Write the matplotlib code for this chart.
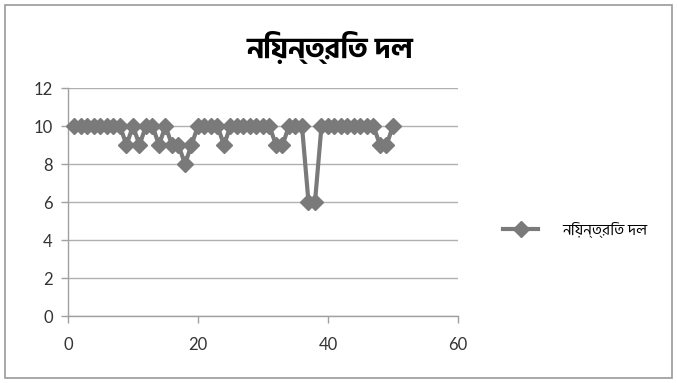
import matplotlib
matplotlib.use("Agg")
import matplotlib.pyplot as plt
from matplotlib.patches import Rectangle

# scores of the control group, one per participant
title = "নিয়ন্ত্রিত দল"
series_name = "নিয়ন্ত্রিত দল"
participants = list(range(1, 51))
scores = [10, 10, 10, 10, 10, 10, 10, 10, 9, 10,
          9, 10, 10, 9, 10, 9, 9, 8, 9, 10,
          10, 10, 10, 9, 10, 10, 10, 10, 10, 10,
          10, 9, 9, 10, 10, 10, 6, 6, 10, 10,
          10, 10, 10, 10, 10, 10, 10, 9, 9, 10]
x_ticks = [0, 20, 40, 60]
y_ticks = [0, 2, 4, 6, 8, 10, 12]

bn_font = ["Hind Siliguri", "Noto Sans Bengali", "DejaVu Sans"]
line_grey = "#7a7a7a"

fig = plt.figure(figsize=(6.77, 3.83), dpi=100)
fig.patches.append(Rectangle((0.008, 0.013), 0.984, 0.974, transform=fig.transFigure,
                             fill=False, edgecolor="#9a9a9a", linewidth=1.2))

ax = fig.add_axes([0.1004, 0.1749, 0.5761, 0.5953])
ax.plot(participants, scores, color=line_grey, linewidth=3.0, marker="D",
        markersize=8.5, markerfacecolor=line_grey, markeredgecolor=line_grey,
        label=series_name, clip_on=False, zorder=3)

ax.set_xlim(0, 60)
ax.set_ylim(0, 12)
ax.set_xticks(x_ticks)
ax.set_yticks(y_ticks)
ax.yaxis.grid(True, color="#b0b0b0", linewidth=1.0)
ax.set_axisbelow(True)
for side in ["top", "right"]:
    ax.spines[side].set_visible(False)
for side in ["left", "bottom"]:
    ax.spines[side].set_color("#a0a0a0")
    ax.spines[side].set_linewidth(1.0)
ax.tick_params(axis="both", colors="#a0a0a0", length=5, width=1.0,
               labelsize=12, labelcolor="#333333", pad=6)
ax.tick_params(axis="x", pad=10)
for lbl in ax.get_xticklabels() + ax.get_yticklabels():
    lbl.set_family(["Lato", "DejaVu Sans"])

fig.text(0.488, 0.875, title, ha="center", va="center", fontsize=21,
         fontweight="bold", family=bn_font)

leg = ax.legend(loc="center left", bbox_to_anchor=(1.08, 0.38), frameon=False,
                handlelength=2.3, handletextpad=1.6, markerscale=0.9,
                prop={"family": bn_font, "size": 11})

fig.savefig("out.png", dpi=100)
